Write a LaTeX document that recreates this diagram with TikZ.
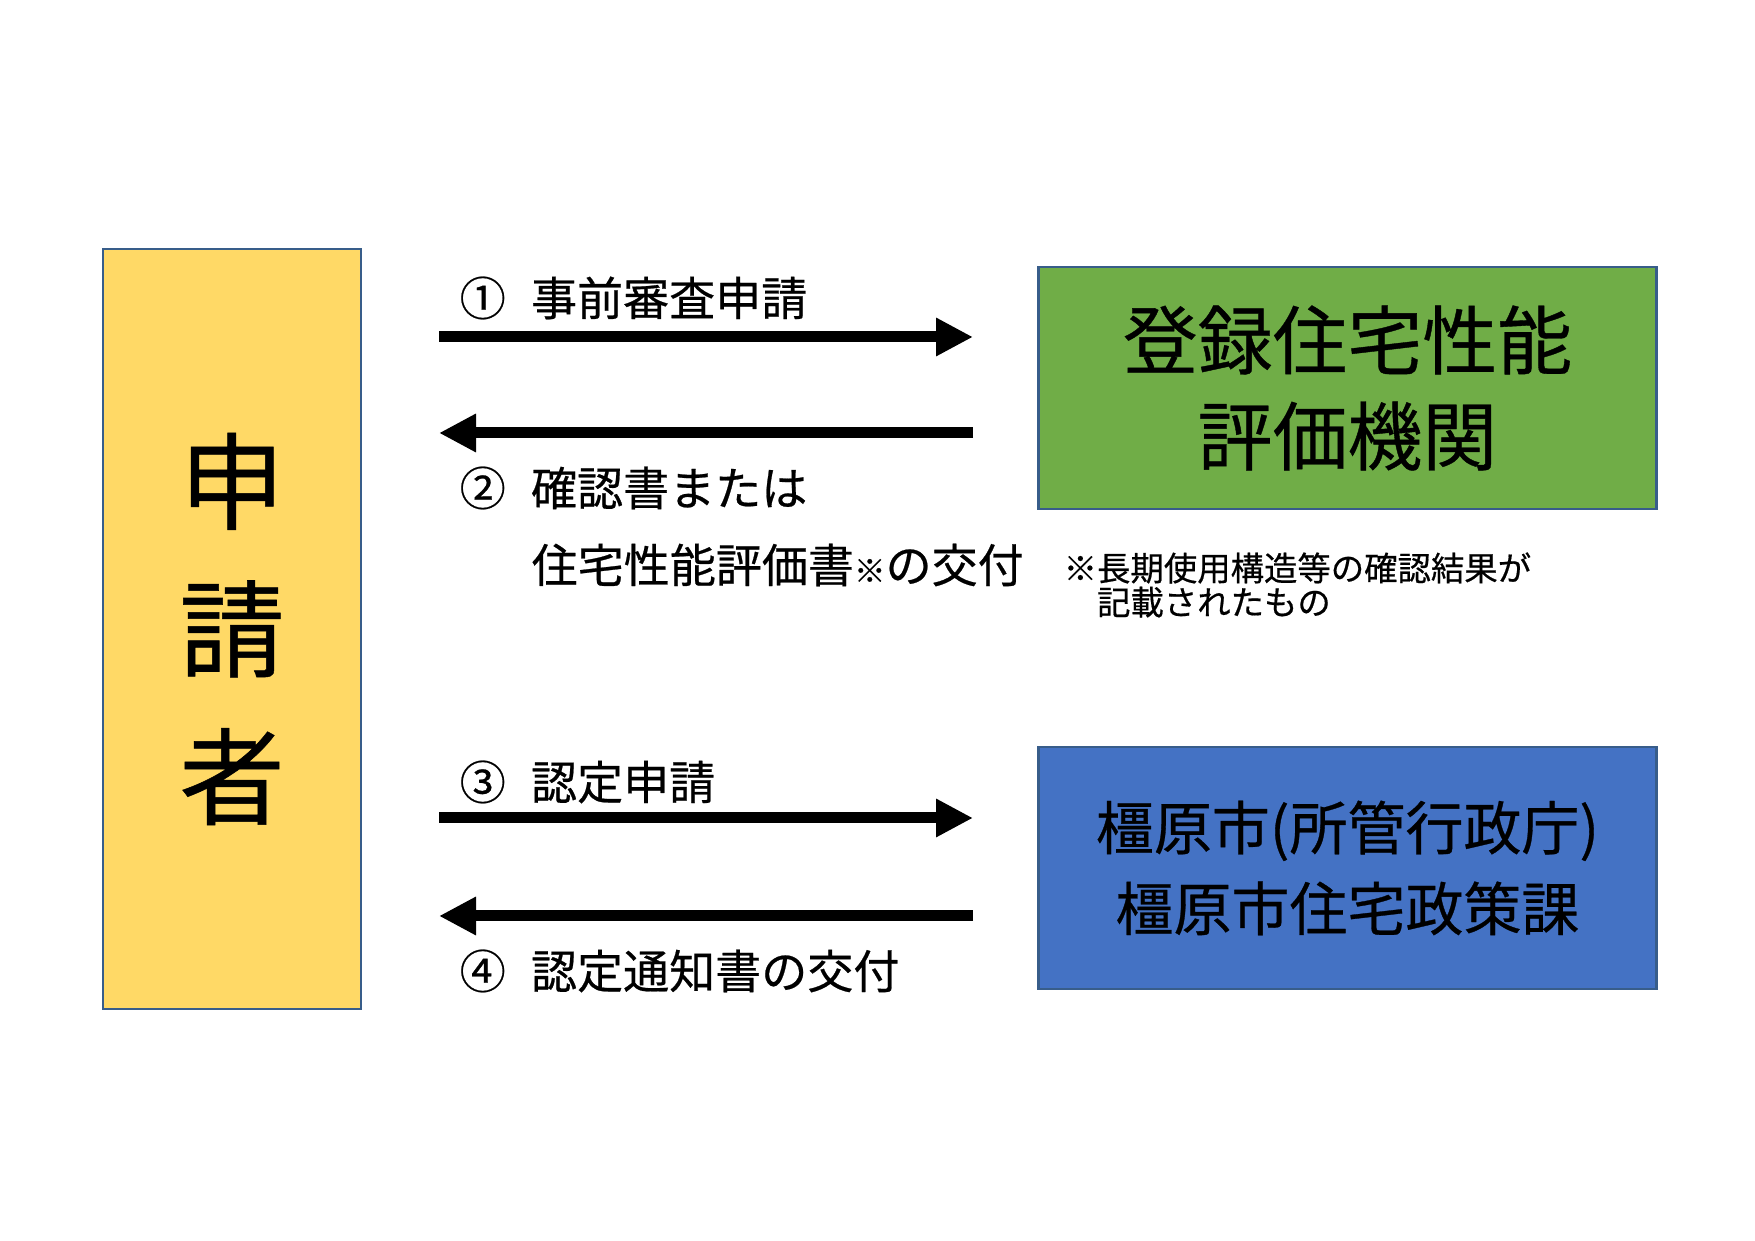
\documentclass[tikz,border=0pt]{standalone}
\usepackage{fontspec}
\setmainfont{Noto Sans CJK JP}[FakeBold=0.5]
\usetikzlibrary{arrows.meta,positioning}

\definecolor{boxyellow}{HTML}{FFD966}
\definecolor{boxgreen}{HTML}{70AD47}
\definecolor{boxblue}{HTML}{4472C4}
\definecolor{boxline}{HTML}{385D8A}

\tikzset{
  panel/.style={draw=boxline, line width=0.6pt, inner sep=0pt, align=center},
  flow/.style={line width=1.1mm, -{Triangle[length=3.7mm,width=3.6mm]}},
  steptext/.style={anchor=west, inner sep=0pt, font=\fontsize{13.1pt}{16pt}\selectfont},
}

\begin{document}
\begin{tikzpicture}[x=0.1mm,y=-0.1mm]
    \useasboundingbox (0,0) rectangle (1755,1241);

    % 申請者と二つの窓口
    \node[panel, fill=boxyellow, minimum width=25.85mm, minimum height=76mm,
          font=\fontsize{30pt}{42pt}\selectfont] (applicant) at (232,629) {申\\請\\者};
    \node[panel, fill=boxgreen, minimum width=61.8mm, minimum height=24.2mm,
          font=\fontsize{21.3pt}{27.3pt}\selectfont] (agency) at (1347.5,388) {登録住宅性能\\評価機関};
    \node[panel, fill=boxblue, minimum width=61.8mm, minimum height=24.2mm,
          font=\fontsize{16.5pt}{23pt}\selectfont] (city) at (1347.5,868) {橿原市(所管行政庁)\\橿原市住宅政策課};

    % 矢印の端点
    \coordinate (go1) at (439,337);  \coordinate (to1) at (973,337);
    \coordinate (go2) at (973,433);  \coordinate (to2) at (439,433);
    \coordinate (go3) at (439,818);  \coordinate (to3) at (973,818);
    \coordinate (go4) at (973,916);  \coordinate (to4) at (439,916);
    \draw[flow] (go1) -- (to1);
    \draw[flow] (go2) -- (to2);
    \draw[flow] (go3) -- (to3);
    \draw[flow] (go4) -- (to4);

    % 手順の説明
    \node[steptext] (step1) at (459,298) {①\hspace{0.55em}事前審査申請};
    \node[steptext] (step2) at (459,488) {②\hspace{0.55em}確認書または};
    \node[steptext] (step2b) at (531,565) {住宅性能評価書{\fontsize{9pt}{9pt}\selectfont ※}の交付};
    \node[steptext] (step3) at (459,782) {③\hspace{0.55em}認定申請};
    \node[steptext] (step4) at (459,971) {④\hspace{0.55em}認定通知書の交付};

    % 注記
    \node[anchor=west, inner sep=0pt, align=left, font=\fontsize{9.5pt}{9.7pt}\selectfont]
        (note) at (1063,585) {※長期使用構造等の確認結果が\\\hspace*{1em}記載されたもの};
\end{tikzpicture}
\end{document}
